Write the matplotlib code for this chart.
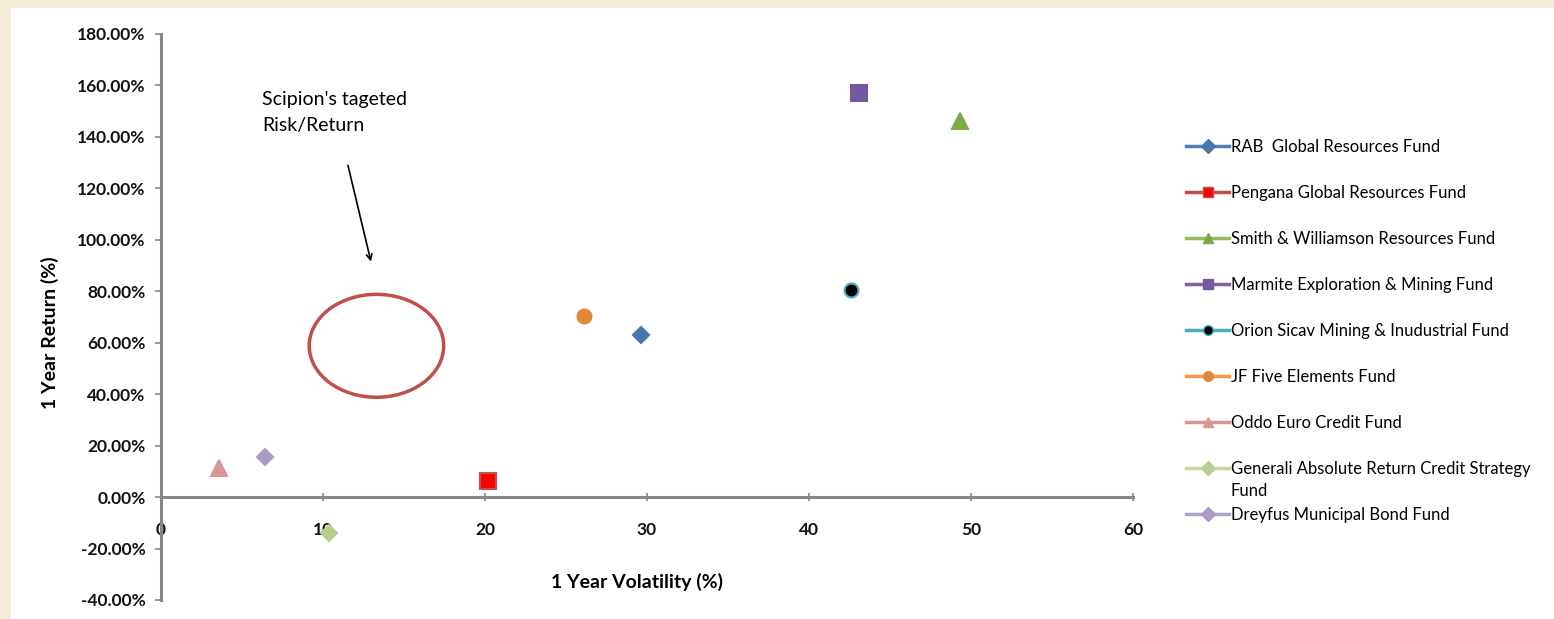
import matplotlib
matplotlib.use("Agg")
import matplotlib.pyplot as plt
from matplotlib.patches import Ellipse, Rectangle
from matplotlib.ticker import FuncFormatter, MultipleLocator

plt.rcParams['font.family'] = ['Lato', 'DejaVu Sans']

# fund data: 1 year volatility (%) vs 1 year return (%)
funds = ["RAB  Global Resources Fund",
         "Pengana Global Resources Fund",
         "Smith & Williamson Resources Fund",
         "Marmite Exploration & Mining Fund",
         "Orion Sicav Mining & Inudustrial Fund",
         "JF Five Elements Fund",
         "Oddo Euro Credit Fund",
         "Generali Absolute Return Credit Strategy",
         "Dreyfus Municipal Bond Fund"]
wrap_tail = "Fund"  # second line of the Generali label
volatility = [29.6, 20.2, 49.3, 43.1, 42.6, 26.1, 3.6, 10.4, 6.4]
returns = [63.0, 6.2, 146.0, 157.0, 80.5, 70.4, 11.5, -14.0, 15.6]

line_colors = ["#4F81BD", "#C0504D", "#9BBB59", "#8064A2", "#4BACC6",
               "#F79646", "#D99694", "#C3D69B", "#B3A2C7"]
face_colors = ["#4A76AE", "#FF0000", "#7FA84A", "#7658A0", "#000000",
               "#E0873A", "#D99694", "#B5D08E", "#A99BC6"]
edge_colors = ["#4A76AE", "#C0504D", "#7FA84A", "#7658A0", "#4BACC6",
               "#E0873A", "#D99694", "#B5D08E", "#A99BC6"]
markers = ["D", "s", "^", "s", "o", "o", "^", "D", "D"]
sizes = [8, 11.5, 12, 11.5, 10, 10, 12, 8, 8]

fig = plt.figure(figsize=(15.54, 6.19), dpi=100)
fig.patch.set_facecolor("#F4ECD6")
fig.patches.append(Rectangle((11 / 1554, 0), 1, 1 - 8 / 619, transform=fig.transFigure,
                             facecolor="white", edgecolor="none", zorder=-5))

ax = fig.add_axes([161 / 1554, 1 - 600 / 619, 972 / 1554, 566 / 619])
ax.set_facecolor("none")

handles = []
for i in range(len(funds)):
    ax.plot(volatility[i], returns[i], linestyle="none", marker=markers[i],
            markersize=sizes[i], markerfacecolor=face_colors[i],
            markeredgecolor=edge_colors[i], markeredgewidth=1.5, zorder=3)
    h, = ax.plot([], [], color=line_colors[i], linewidth=2.5, marker=markers[i],
                 markersize=7, markerfacecolor=face_colors[i],
                 markeredgecolor=edge_colors[i])
    handles.append(h)

ax.set_xlim(0, 60)
ax.set_ylim(-40, 180)
ax.xaxis.set_major_locator(MultipleLocator(10))
ax.yaxis.set_major_locator(MultipleLocator(20))
ax.yaxis.set_major_formatter(FuncFormatter(lambda v, p: "%.2f%%" % v))

ax.spines['top'].set_visible(False)
ax.spines['right'].set_visible(False)
ax.spines['bottom'].set_position(('data', 0))
for s in ['left', 'bottom']:
    ax.spines[s].set_color("#868686")
    ax.spines[s].set_linewidth(2.2)
ax.tick_params(axis='y', direction='out', length=4, width=1.2, color="#868686",
               pad=7, labelsize=12.5)
ax.tick_params(axis='x', direction='inout', length=6, width=1.2, color="#868686",
               pad=15, labelsize=12.5)
for lab in ax.get_xticklabels() + ax.get_yticklabels():
    lab.set_fontweight('bold')
    lab.set_color("#111111")

ax.set_xlabel("1 Year Volatility (%)", fontsize=14, fontweight='bold')
ax.xaxis.set_label_coords(0.49, 0.048)
ax.set_ylabel("1 Year Return (%)", fontsize=14, fontweight='bold')
ax.yaxis.set_label_coords(-0.105, 0.472)

# targeted risk/return zone
ax.add_patch(Ellipse((13.3, 58.8), 8.3, 40, fill=False, edgecolor="#C0504D",
                     linewidth=2.5, zorder=2))
ax.annotate("", xy=(13.0, 90.5), xytext=(11.5, 130),
            arrowprops=dict(arrowstyle="->", color="black", lw=1.2))
ax.text(6.25, 157.8, "Scipion's tageted\nRisk/Return", fontsize=14, va='top',
        ha='left', linespacing=1.6)

leg = fig.legend(handles=handles, labels=funds, loc='upper left',
                 bbox_to_anchor=(1171 / 1554, 1 - 124 / 619), frameon=False,
                 fontsize=12, handlelength=2.6, handletextpad=0.1,
                 labelspacing=1.8)

# second line of the wrapped Generali label, placed under its first line
fig.canvas.draw()
bb = leg.get_texts()[7].get_window_extent()
fig.text(bb.x0 / 1554, (bb.y0 - 6) / 619, wrap_tail, fontsize=12,
         ha='left', va='top')

fig.savefig("out.png", dpi=100)
